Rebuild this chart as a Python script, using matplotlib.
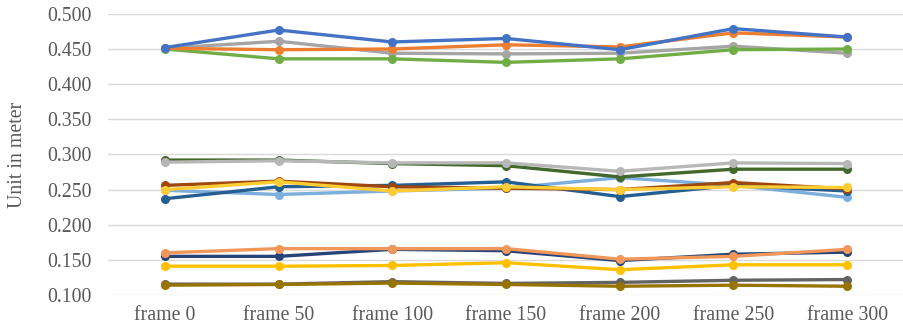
import matplotlib
matplotlib.use("Agg")
import matplotlib.pyplot as plt

# ========== data ==========
frames = ["frame 0", "frame 50", "frame 100", "frame 150", "frame 200", "frame 250", "frame 300"]

# upper group (~0.45 m)
s_blue = [0.452, 0.477, 0.460, 0.465, 0.449, 0.479, 0.467]
s_orange = [0.451, 0.449, 0.450, 0.456, 0.453, 0.473, 0.467]
s_gray = [0.451, 0.461, 0.444, 0.443, 0.444, 0.454, 0.444]
s_green = [0.450, 0.436, 0.436, 0.431, 0.436, 0.449, 0.450]

# middle group (~0.25-0.29 m)
s_darkgreen = [0.292, 0.292, 0.287, 0.284, 0.268, 0.279, 0.279]
s_lightgray = [0.289, 0.291, 0.288, 0.288, 0.276, 0.288, 0.287]
s_brown = [0.256, 0.262, 0.254, 0.252, 0.250, 0.260, 0.251]
s_yellow = [0.250, 0.261, 0.248, 0.254, 0.250, 0.254, 0.253]
s_steelblue = [0.237, 0.254, 0.256, 0.261, 0.240, 0.256, 0.248]
s_lightblue = [0.249, 0.243, 0.248, 0.252, 0.267, 0.256, 0.239]

# lower group (~0.11-0.17 m)
s_navy = [0.155, 0.155, 0.165, 0.163, 0.149, 0.158, 0.161]
s_salmon = [0.160, 0.166, 0.166, 0.166, 0.151, 0.155, 0.165]
s_gold = [0.141, 0.141, 0.142, 0.146, 0.136, 0.143, 0.143]
s_darkgray = [0.1155, 0.1155, 0.119, 0.1165, 0.118, 0.121, 0.122]
s_olive = [0.114, 0.115, 0.117, 0.115, 0.1125, 0.114, 0.1125]

series = [
    (s_darkgray, "#636363"),
    (s_olive, "#997300"),
    (s_gold, "#FFC000"),
    (s_navy, "#264478"),
    (s_salmon, "#F1975A"),
    (s_lightblue, "#7CAFDD"),
    (s_steelblue, "#255E91"),
    (s_brown, "#9E480E"),
    (s_yellow, "#FFCD33"),
    (s_darkgreen, "#43682B"),
    (s_lightgray, "#B7B7B7"),
    (s_gray, "#A5A5A5"),
    (s_green, "#70AD47"),
    (s_orange, "#ED7D31"),
    (s_blue, "#4472C4"),
]

plt.rcParams["font.family"] = ["Liberation Serif", "DejaVu Serif"]

fig = plt.figure(figsize=(9.04, 3.30), dpi=100)
ax = fig.add_axes([0.1195, 0.106, 0.8805, 0.852])

x = list(range(len(frames)))
for vals, col in series:
    ax.plot(x, vals, color=col, lw=2.4, marker="o", ms=6.5,
            markeredgewidth=0, solid_capstyle="round", zorder=3)

ax.set_xlim(-0.5, len(frames) - 0.5)
ax.set_ylim(0.1, 0.5)
ax.set_yticks([0.1 + 0.05 * i for i in range(9)])
ax.set_yticklabels([f"{0.1 + 0.05 * i:.3f}" for i in range(9)])
ax.set_xticks(x)
ax.set_xticklabels(frames)

ax.grid(axis="y", color="#D9D9D9", lw=1.0, zorder=0)
for sp in ax.spines.values():
    sp.set_visible(False)
ax.tick_params(axis="both", length=0, labelsize=14.3, colors="#595959")
ax.tick_params(axis="y", pad=11.5)
ax.tick_params(axis="x", pad=8)
ax.set_ylabel("Unit in meter", fontsize=14.3, color="#595959", labelpad=14.5)

fig.savefig("out.png", dpi=100)
